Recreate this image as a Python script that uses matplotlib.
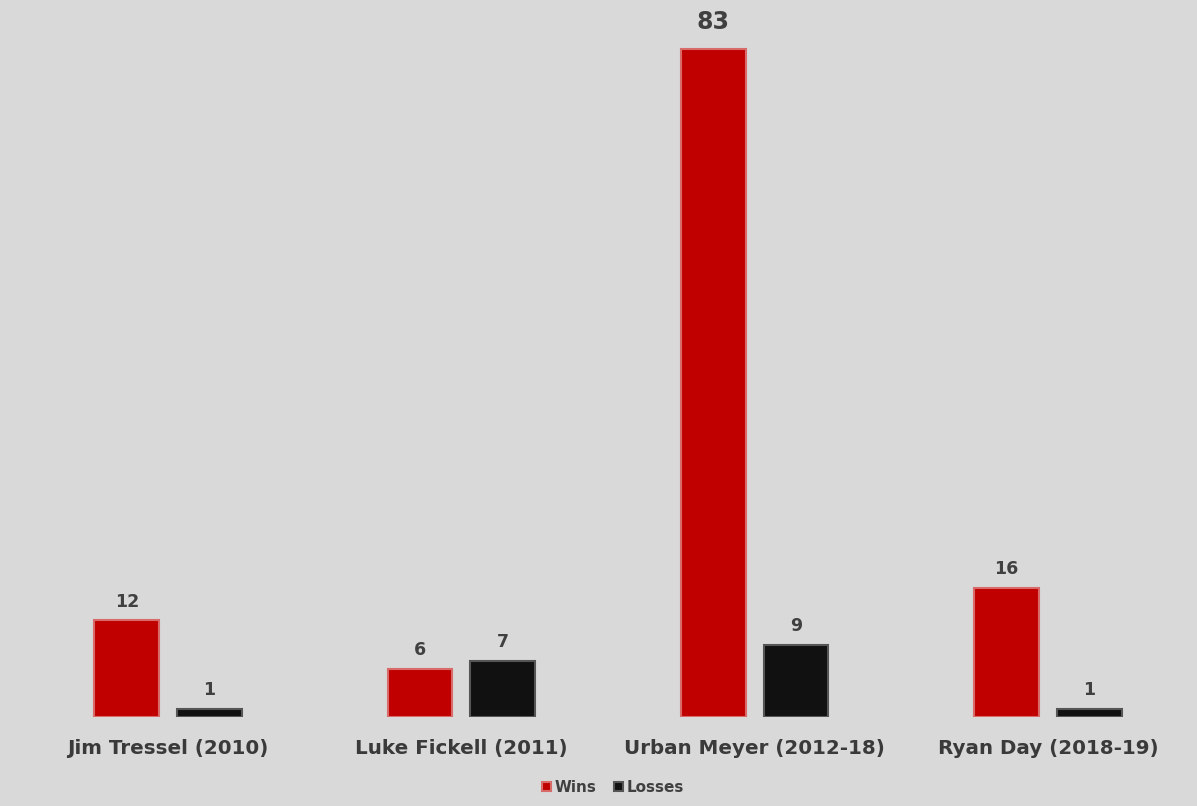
import matplotlib
matplotlib.use('Agg')
import matplotlib.pyplot as plt
import numpy as np

coaches = ['Jim Tressel (2010)', 'Luke Fickell (2011)', 'Urban Meyer (2012-18)', 'Ryan Day (2018-19)']
wins = [12, 6, 83, 16]
losses = [1, 7, 9, 1]

bg = '#d9d9d9'
red = '#c00000'
black = '#111111'

plt.rcParams['font.family'] = ['DejaVu Sans']

fig = plt.figure(figsize=(11.97, 8.06), dpi=100, facecolor=bg)
ax = fig.add_axes([0.018, 0.1104, 0.98, 0.849])
ax.set_facecolor(bg)

x = np.arange(len(coaches))
w = 0.221
off = 0.141
b1 = ax.bar(x - off, wins, w, color=red, edgecolor='#d86a6a', linewidth=1.5, label='Wins')
b2 = ax.bar(x + off, losses, w, color=black, edgecolor='#555555', linewidth=1.5, label='Losses')

for bars, vals in ((b1, wins), (b2, losses)):
    for r, v in zip(bars, vals):
        big = v == max(wins)
        ax.annotate(str(v), (r.get_x() + r.get_width() / 2, v),
                    xytext=(0, 11 if big else 7), textcoords='offset points',
                    ha='center', va='bottom', fontsize=17 if big else 12.5,
                    fontweight='bold', color='#404040')

ax.set_xlim(-0.5, len(coaches) - 0.5)
ax.set_ylim(0, 85)
ax.set_xticks(x)
ax.set_xticklabels(coaches, fontsize=14.3, fontweight='bold', color='#3a3a3a')
ax.tick_params(axis='x', length=0, pad=16)
ax.set_yticks([])
for s in ax.spines.values():
    s.set_visible(False)

leg = fig.legend(handles=[b1, b2], loc='center', bbox_to_anchor=(0.512, 0.023), ncol=2,
                 frameon=False, fontsize=11, handlelength=0.6, handleheight=0.6,
                 handletextpad=0.2, columnspacing=1.2)
for t in leg.get_texts():
    t.set_color('#404040')
    t.set_fontweight('bold')

fig.savefig('out.png', dpi=100, facecolor=bg)
